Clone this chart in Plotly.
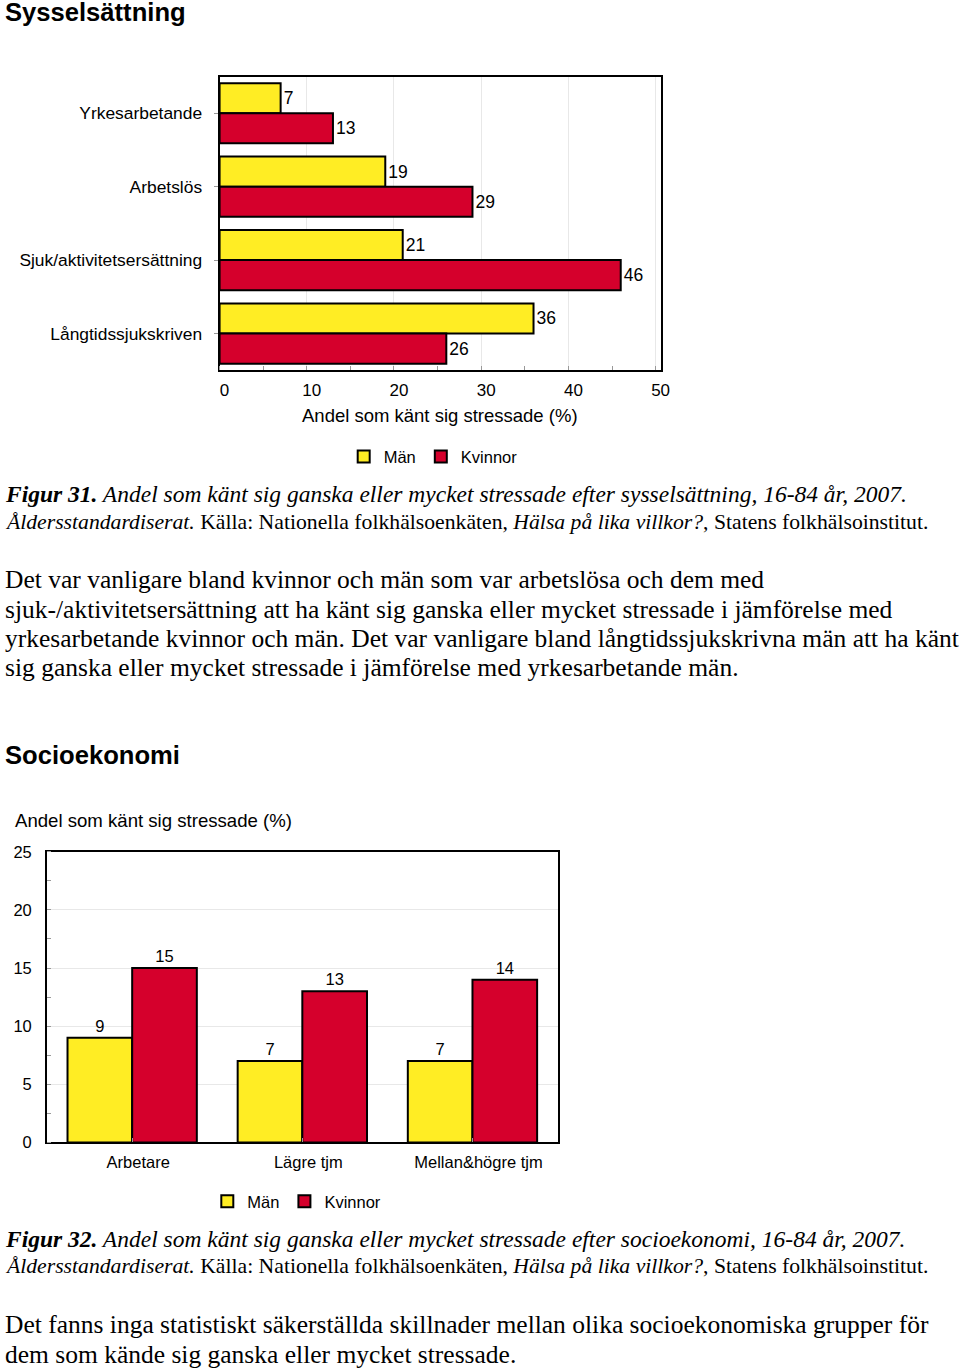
import plotly.graph_objects as go

# empirical screen mapping (screen = S * figure_px + C); figure is shifted with a small
# negative body margin so that the figure covers the whole visible window
S, CX, CY = 0.988, -3.95, 0.38
W, H = 980, 1386

# ---- data ----
cats1 = ["Yrkesarbetande", "Arbetslös", "Sjuk/aktivitetsersättning", "Långtidssjukskriven"]
man1 = [7, 19, 21, 36]
kvinnor1 = [13, 29, 46, 26]

cats2 = ["Arbetare", "Lägre tjm", "Mellan&högre tjm"]
man2 = [9, 7, 7]
kvinnor2 = [15, 13, 14]

series_names = ["Män", "Kvinnor"]
x1_ticks = [0, 10, 20, 30, 40, 50]
y2_ticks = [0, 5, 10, 15, 20, 25]

YELLOW = "#FFED24"
RED = "#D5002C"
SANS = "Liberation Sans, Arial, sans-serif"
SERIF = "Liberation Serif, Times New Roman, serif"


def px(x):
    return ((x - CX) / S) / W


def py(y):
    return 1 - ((y - CY) / S) / H


fig = go.Figure()

# top chart (horizontal bars)
fig.add_trace(go.Bar(y=cats1, x=man1, orientation="h", name=series_names[0],
                     marker=dict(color=YELLOW, line=dict(color="black", width=2)),
                     text=man1, textposition="outside", cliponaxis=False,
                     textfont=dict(family=SANS, size=17.5, color="black"),
                     xaxis="x", yaxis="y", legend="legend"))
fig.add_trace(go.Bar(y=cats1, x=kvinnor1, orientation="h", name=series_names[1],
                     marker=dict(color=RED, line=dict(color="black", width=2)),
                     text=kvinnor1, textposition="outside", cliponaxis=False,
                     textfont=dict(family=SANS, size=17.5, color="black"),
                     xaxis="x", yaxis="y", legend="legend"))

# bottom chart (vertical bars)
fig.add_trace(go.Bar(x=cats2, y=man2, name=series_names[0],
                     marker=dict(color=YELLOW, line=dict(color="black", width=2)),
                     text=man2, textposition="outside", cliponaxis=False,
                     textfont=dict(family=SANS, size=16.5, color="black"),
                     width=0.38, offset=-0.38,
                     xaxis="x2", yaxis="y2", legend="legend2"))
fig.add_trace(go.Bar(x=cats2, y=kvinnor2, name=series_names[1],
                     marker=dict(color=RED, line=dict(color="black", width=2)),
                     text=kvinnor2, textposition="outside", cliponaxis=False,
                     textfont=dict(family=SANS, size=16.5, color="black"),
                     width=0.38, offset=0.0,
                     xaxis="x2", yaxis="y2", legend="legend2"))

axis_common = dict(showline=True, mirror=True, linecolor="black", linewidth=2,
                   zeroline=False)

fig.update_layout(
    width=W, height=H,
    margin=dict(l=0, r=0, t=0, b=0),
    paper_bgcolor="white", plot_bgcolor="white",
    barmode="group",
    showlegend=True,
    font=dict(family=SANS, size=16, color="black"),
    xaxis=dict(domain=[px(219), px(659)], anchor="y", range=[0, 50.6],
               tickvals=x1_ticks, showgrid=True, gridcolor="#e8e8e8",
               ticks="", ticklabelstandoff=3, ticklabelshift=5,
               tickfont=dict(family=SANS, size=17, color="black"),
               minor=dict(ticks="inside", ticklen=4, tickcolor="#999", dtick=5, showgrid=False),
               **axis_common),
    yaxis=dict(domain=[py(369), py(75)], anchor="x", type="category",
               autorange="reversed", showgrid=False,
               ticks="outside", ticklen=4, tickcolor="#999", ticklabelstandoff=8,
               tickfont=dict(family=SANS, size=17.4, color="black"),
               **axis_common),
    xaxis2=dict(domain=[px(47), px(556)], anchor="y2", type="category",
                showgrid=False, ticks="inside", ticklen=4, tickcolor="#999",
                ticklabelstandoff=4, ticklabelshift=6,
                tickfont=dict(family=SANS, size=16.5, color="black"),
                **axis_common),
    yaxis2=dict(domain=[py(1142), py(851)], anchor="x2", range=[0, 25],
                tickvals=y2_ticks, showgrid=True, gridcolor="#e8e8e8",
                ticks="", ticklabelstandoff=10,
                tickfont=dict(family=SANS, size=16.5, color="black"),
                minor=dict(ticks="inside", ticklen=4, tickcolor="#999", dtick=2.5, showgrid=False),
                **axis_common),
    legend=dict(orientation="h", x=px(432), xanchor="center", y=py(455.5), yanchor="middle",
                font=dict(family=SANS, size=16.5), itemwidth=30, bgcolor="rgba(0,0,0,0)"),
    legend2=dict(orientation="h", x=px(296), xanchor="center", y=py(1201), yanchor="middle",
                 font=dict(family=SANS, size=16.5), itemwidth=30, bgcolor="rgba(0,0,0,0)"),
    bargap=0.18,
)


def ann(text, x, y, size, family, xanchor="left", yanchor="middle"):
    fig.add_annotation(text=text, x=px(x), y=py(y - 1.5), xref="paper", yref="paper",
                       xanchor=xanchor, yanchor=yanchor, showarrow=False,
                       font=dict(family=family, size=size, color="black"), align="left")


# headings
ann("<b>Sysselsättning</b>", 3, 12, 25.6, SANS)
ann("<b>Socioekonomi</b>", 3, 756, 25.6, SANS)

# axis titles
ann("Andel som känt sig stressade (%)", 439, 416, 18.5, SANS, xanchor="center")
ann("Andel som känt sig stressade (%)", 13, 821, 18.6, SANS)

# captions
cap31_1 = "<b><i>Figur 31.</i></b><i> Andel som känt sig ganska eller mycket stressade efter sysselsättning, 16-84 år, 2007.</i>"
cap31_2 = "<i>Åldersstandardiserat.</i> Källa: Nationella folkhälsoenkäten, <i>Hälsa på lika villkor?</i>, Statens folkhälsoinstitut."
cap32_1 = "<b><i>Figur 32.</i></b><i> Andel som känt sig ganska eller mycket stressade efter socioekonomi, 16-84 år, 2007.</i>"
cap32_2 = cap31_2
ann(cap31_1, 3, 494.5, 23.5, SERIF)
ann(cap31_2, 3, 522.5, 21.7, SERIF)
ann(cap32_1, 3, 1240.5, 23.5, SERIF)
ann(cap32_2, 3, 1267.5, 21.7, SERIF)

para1 = [
    "Det var vanligare bland kvinnor och män som var arbetslösa och dem med",
    "sjuk-/aktivitetsersättning att ha känt sig ganska eller mycket stressade i jämförelse med",
    "yrkesarbetande kvinnor och män. Det var vanligare bland långtidssjukskrivna män att ha känt",
    "sig ganska eller mycket stressade i jämförelse med yrkesarbetande män.",
]
for i, line in enumerate(para1):
    ann(line, 3, 580 + i * 29.5, 25.5, SERIF)

para2 = [
    "Det fanns inga statistiskt säkerställda skillnader mellan olika socioekonomiska grupper för",
    "dem som kände sig ganska eller mycket stressade.",
]
for i, line in enumerate(para2):
    ann(line, 3, 1326 + i * 29.5, 25.5, SERIF)

fig.write_html(
    "out.html",
    config={"displayModeBar": False},
    post_script="document.body.style.margin='-7px 0px 0px -4px';document.body.style.overflow='hidden';",
)
